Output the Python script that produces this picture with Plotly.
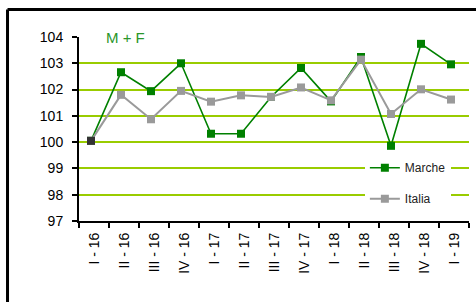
import plotly.graph_objects as go

categories = ["I - 16", "II - 16", "III - 16", "IV - 16", "I - 17", "II - 17", "III - 17",
              "IV - 17", "I - 18", "II - 18", "III - 18", "IV - 18", "I - 19"]
marche = [100.05, 102.66, 101.94, 103.0, 100.32, 100.32, 101.72, 102.82, 101.55, 103.24, 99.86, 103.74, 102.96]
italia = [100.05, 101.80, 100.87, 101.95, 101.54, 101.78, 101.72, 102.08, 101.59, 103.14, 101.07, 102.01, 101.62]
y_ticks = [97, 98, 99, 100, 101, 102, 103, 104]

pos = list(range(len(categories)))
boundaries = [i - 0.4 for i in range(len(categories) + 1)]
label_pos = [i + 0.1 for i in pos]

GREEN = "#008000"
GREY = "#9a9a9a"
GRID = "#99cc00"

fig = go.Figure()
fig.add_trace(go.Scatter(
    x=pos, y=marche, name="Marche", mode="lines+markers",
    line=dict(color=GREEN, width=1.6),
    marker=dict(symbol="square", size=8, color=GREEN),
    legendgroup="a",
))
fig.add_trace(go.Scatter(
    x=pos, y=italia, name="Italia", mode="lines+markers",
    line=dict(color=GREY, width=2),
    marker=dict(symbol="square", size=8, color=GREY),
    legendgroup="b",
))
# first (shared) point drawn dark on top
fig.add_trace(go.Scatter(
    x=pos[:1], y=italia[:1], mode="markers", showlegend=False,
    marker=dict(symbol="square", size=8, color="#333333"),
    hoverinfo="skip",
))

fig.update_layout(
    width=476, height=302,
    margin=dict(l=79, r=7, t=37, b=81),
    paper_bgcolor="white", plot_bgcolor="white",
    font=dict(family="Liberation Sans, Arial, sans-serif", size=14, color="black"),
    hovermode=False,
    showlegend=True,
    legend=dict(
        x=0.733, y=0.205, xanchor="left", yanchor="middle",
        bgcolor="white", borderwidth=0,
        font=dict(size=12, color="#222222"),
        traceorder="grouped", tracegroupgap=12,
    ),
    xaxis=dict(
        type="linear", range=[-0.4, 12.6],
        tickmode="array", tickvals=label_pos, ticktext=categories,
        ticks="", tickangle=-90, tickfont=dict(size=14),
        showgrid=False, zeroline=False,
        showline=True, linecolor="black", linewidth=2,
        ticklabelstandoff=4,
        minor=dict(tickmode="array", tickvals=boundaries, ticks="outside",
                   ticklen=5, tickwidth=1.5, tickcolor="black", showgrid=False),
    ),
    yaxis=dict(
        range=[97, 104], tickmode="array", tickvals=y_ticks,
        ticks="outside", ticklen=5, tickwidth=1.5, tickcolor="black",
        showgrid=True, gridcolor=GRID, gridwidth=1.5,
        zeroline=False, showline=True, linecolor="black", linewidth=2,
        tickfont=dict(size=14), ticklabelstandoff=6,
    ),
    annotations=[dict(
        text="M + F", x=0.12, y=104, xref="paper", yref="y",
        xanchor="center", yanchor="middle", showarrow=False,
        font=dict(size=15, color="#2a962a"), bgcolor="white", borderpad=4,
    )],
    shapes=[
        dict(type="line", xref="paper", yref="paper", x0=-0.1833, x1=-0.1833,
             y0=-0.44, y1=1.15, line=dict(color="black", width=3)),
        dict(type="line", xref="paper", yref="paper", x0=-0.1833, x1=1.018,
             y0=1.1495, y1=1.1495, line=dict(color="black", width=3)),
    ],
)

fig.write_html("out.html", config={"displayModeBar": False},
               post_script="document.body.style.margin='0';")
